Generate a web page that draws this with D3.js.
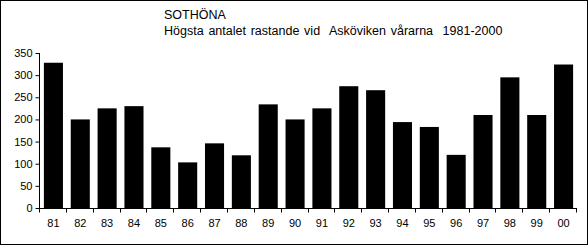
<!DOCTYPE html>
<html>
<head>
	<title>SOTHÖNA</title>
	<script src="https://d3js.org/d3.v7.min.js"></script>
	<style type="text/css">
		body { margin: 0; background: #fff; }
		text { font-family: "Liberation Sans", Arial, sans-serif; }
	</style>
</head>
<body>
<div id="chart"></div>
<script type="text/javascript">
	var years = ["81","82","83","84","85","86","87","88","89","90","91","92","93","94","95","96","97","98","99","00"];
	var counts = [328, 200, 225, 230, 137, 103, 146, 119, 234, 200, 225, 275, 266, 194, 183, 120, 210, 295, 210, 324];
	var yTicks = [0, 50, 100, 150, 200, 250, 300, 350];
	var title1 = "SOTHÖNA";
	var title2 = "Högsta antalet rastande vid  Asköviken vårarna  1981-2000";

	var width = 588,
	    height = 246;
	var margin = {left: 40, right: 11, top: 53, bottom: 38};

	var svg = d3.select("#chart")
	    .append("svg")
	    .attr("width", width)
	    .attr("height", height);

	// frame
	svg.append("rect")
	    .attr("x", 0.5).attr("y", 0.5)
	    .attr("width", width - 1).attr("height", height - 2)
	    .attr("fill", "none").attr("stroke", "#000");

	svg.append("text")
	    .attr("x", 164).attr("y", 19)
	    .attr("font-size", 12.5)
	    .text(title1);
	svg.append("text")
	    .attr("x", 164).attr("y", 35)
	    .attr("font-size", 12.5)
	    .attr("word-spacing", 1.3)
	    .style("white-space", "pre")
	    .text(title2);

	var xScale = d3.scaleBand()
	    .domain(years)
	    .range([margin.left, width - margin.right])
	    .paddingInner(0.29)
	    .paddingOuter(0.145);

	var yScale = d3.scaleLinear()
	    .domain([0, 350])
	    .range([height - margin.bottom, margin.top]);

	svg.selectAll(".bar")
	    .data(counts)
	    .enter()
	    .append("rect")
	    .attr("class", "bar")
	    .attr("x", (d, i) => xScale(years[i]))
	    .attr("width", xScale.bandwidth())
	    .attr("y", d => yScale(d))
	    .attr("height", d => yScale(0) - yScale(d))
	    .attr("fill", "#000");

	// y axis
	var gY = svg.append("g")
	    .attr("transform", "translate(" + (margin.left - 0.5) + ",0)")
	    .call(d3.axisLeft(yScale).tickValues(yTicks).tickSize(4).tickPadding(3));
	gY.selectAll("text").attr("font-size", 11).attr("font-family", "Liberation Sans, Arial, sans-serif");
	gY.select(".domain").attr("d", "M0," + yScale(350) + "V" + (yScale(0) + 0.5));

	// x axis: ticks between categories
	var x0 = margin.left, x1 = width - margin.right;
	var gX = svg.append("g")
	    .attr("transform", "translate(0," + (yScale(0) + 0.5) + ")");
	gX.append("line")
	    .attr("x1", x0 - 0.5).attr("x2", x1)
	    .attr("stroke", "#000");
	gX.selectAll(".tk")
	    .data(d3.range(years.length + 1))
	    .enter()
	    .append("line")
	    .attr("x1", i => Math.round(x0 + i * (x1 - x0) / years.length) - 0.5)
	    .attr("x2", i => Math.round(x0 + i * (x1 - x0) / years.length) - 0.5)
	    .attr("y1", 0).attr("y2", 4)
	    .attr("stroke", "#000");
	gX.selectAll(".lbl")
	    .data(years)
	    .enter()
	    .append("text")
	    .attr("x", d => xScale(d) + xScale.bandwidth() / 2)
	    .attr("y", 18)
	    .attr("text-anchor", "middle")
	    .attr("font-size", 11)
	    .text(d => d);
</script>
</body>
</html>
